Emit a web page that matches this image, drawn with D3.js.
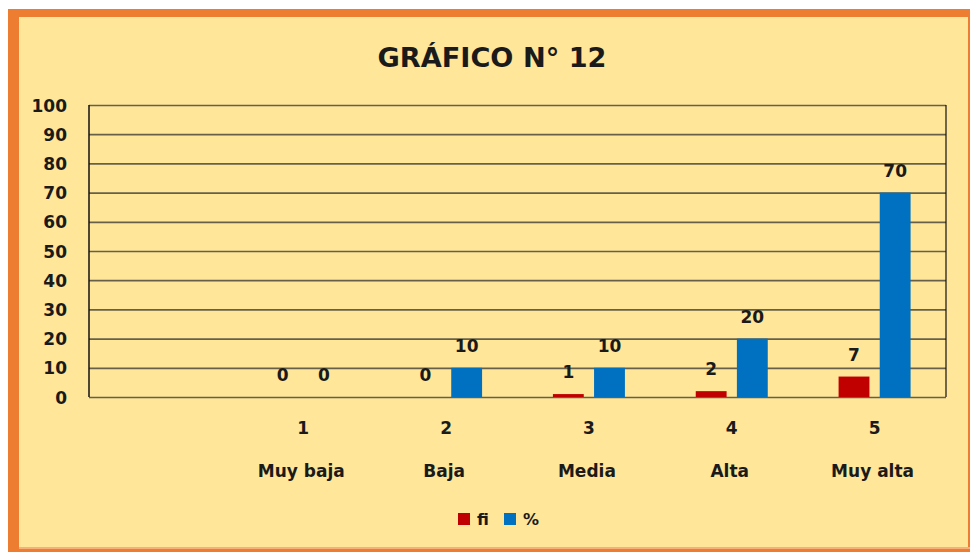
<!DOCTYPE html>
<html>
<head>
<meta charset="utf-8">
<script src="https://cdn.jsdelivr.net/npm/d3@7"></script>
<style>
  html, body { margin: 0; padding: 0; background: #ffffff; }
  svg { display: block; }
  text { font-family: "DejaVu Sans", sans-serif; font-weight: bold; fill: #1a1a1a; }
</style>
</head>
<body>
<script>
const title = "GRÁFICO N° 12";
const codes = ["", "1", "2", "3", "4", "5"];
const names = ["", "Muy baja", "Baja", "Media", "Alta", "Muy alta"];
const fiValues = [null, 0, 0, 1, 2, 7];
const pctValues = [null, 0, 10, 10, 20, 70];
const seriesNames = ["fi", "%"];
const seriesColors = ["#C00000", "#0070C0"];
const yTicks = [0, 10, 20, 30, 40, 50, 60, 70, 80, 90, 100];

const W = 970, H = 552;
const svg = d3.select("body").append("svg").attr("width", W).attr("height", H);

// frame
svg.append("rect").attr("x", 8).attr("y", 9).attr("width", W).attr("height", H).attr("fill", "#ED7D31");
svg.append("rect").attr("x", 19).attr("y", 17).attr("width", 949).attr("height", 530).attr("fill", "#FFE699");
svg.append("rect").attr("x", 19).attr("y", 547).attr("width", 951).attr("height", 2).attr("fill", "#F8B07A");

// title
svg.append("text").attr("x", 492).attr("y", 67).attr("text-anchor", "middle")
  .style("font-size", "26px").attr("textLength", 229).attr("lengthAdjust", "spacingAndGlyphs")
  .attr("fill", "#1a1a1a").text(title);

const plot = { left: 89, right: 946, top: 105, bottom: 397 };
const x0 = d3.scaleBand().domain(d3.range(codes.length)).range([plot.left, plot.right]).padding(0);
const x1 = d3.scaleBand().domain(seriesNames).range([-36, 36]).paddingInner(0.25).paddingOuter(0);
const y = d3.scaleLinear().domain([0, 100]).range([plot.bottom, plot.top]);

// gridlines
const yAxis = d3.axisLeft(y).tickValues(yTicks).tickSize(-(plot.right - plot.left)).tickPadding(22);
const gy = svg.append("g").attr("transform", `translate(${plot.left},0)`).call(yAxis);
gy.select(".domain").remove();
gy.selectAll(".tick line").attr("stroke", "#66604a").attr("stroke-width", 1.7);
gy.selectAll(".tick text").style("font-size", "17px").attr("fill", "#1a1a1a").attr("dy", "0.36em");

// axis lines
svg.append("line").attr("x1", plot.left).attr("x2", plot.left).attr("y1", plot.top).attr("y2", plot.bottom)
  .attr("stroke", "#111").attr("stroke-width", 1.5);
svg.append("line").attr("x1", plot.right).attr("x2", plot.right).attr("y1", plot.top).attr("y2", plot.bottom)
  .attr("stroke", "#111").attr("stroke-width", 1.2);

const series = [fiValues, pctValues];
const groups = svg.append("g");
series.forEach((vals, si) => {
  const key = seriesNames[si];
  vals.forEach((v, i) => {
    if (v === null) return;
    const cx = x0(i) + x0.bandwidth() / 2;
    const bx = cx + x1(key);
    if (v > 0) {
      groups.append("rect").attr("x", bx).attr("width", x1.bandwidth())
        .attr("y", y(v)).attr("height", y(0) - y(v)).attr("fill", seriesColors[si]);
    }
    groups.append("text").attr("x", bx + x1.bandwidth() / 2).attr("y", y(v) - 16)
      .attr("text-anchor", "middle").style("font-size", "17px").text(v);
  });
});

// category labels
codes.forEach((c, i) => {
  const cx = x0(i) + x0.bandwidth() / 2;
  svg.append("text").attr("x", cx).attr("y", 434).attr("text-anchor", "middle").style("font-size", "17px").text(c);
  svg.append("text").attr("x", cx - 2).attr("y", 477).attr("text-anchor", "middle").style("font-size", "17px").text(names[i]);
});

// legend
const legX = [458, 504];
seriesNames.forEach((s, i) => {
  svg.append("rect").attr("x", legX[i]).attr("y", 513).attr("width", 12).attr("height", 12).attr("fill", seriesColors[i]);
  svg.append("text").attr("x", legX[i] + 19).attr("y", 525).style("font-size", "16px").text(s);
});
</script>
</body>
</html>
